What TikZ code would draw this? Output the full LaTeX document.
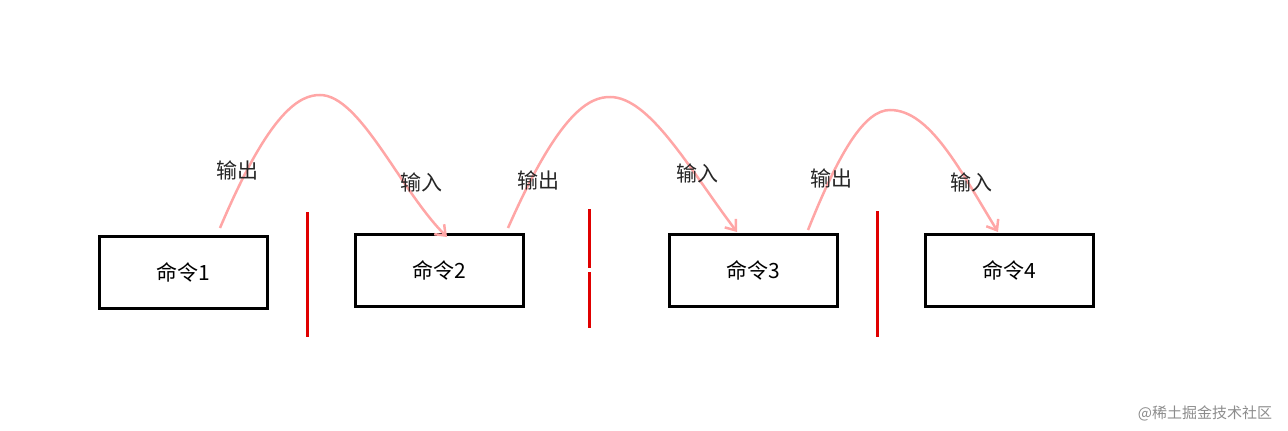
\documentclass[tikz,border=0pt]{standalone}
\usepackage{fontspec}
\setmainfont{Noto Sans CJK SC}
\usetikzlibrary{arrows.meta}
\begin{document}
\begin{tikzpicture}[x=1pt,y=-1pt,
  cmd/.style={draw=black,line width=3pt,minimum width=168pt,minimum height=72pt,font=\fontsize{21}{24}\selectfont},
  lbl/.style={font=\fontsize{21}{24}\selectfont,text=black!85},
  sep/.style={draw=red!88!black,line width=3pt},
  flow/.style={draw=red!35,line width=2.5pt,-{Straight Barb[length=9pt,width=14pt]}}]
\useasboundingbox (0,0) rectangle (1288,431);
\node[cmd] (c1) at (183.5,272) {命令1};
\node[cmd] (c2) at (439.5,270) {命令2};
\node[cmd] (c3) at (753.5,270) {命令3};
\node[cmd] (c4) at (1009.5,270) {命令4};
\draw[sep] (307,212) -- (307,337);
\draw[sep] (589,209) -- (589,268);
\draw[sep] (589,272) -- (589,328);
\draw[sep] (877,211) -- (877,337);
\coordinate (s1) at (220,228); \coordinate (e1) at (447,237);
\coordinate (s2) at (508,228); \coordinate (e2) at (737,232);
\coordinate (s3) at (808,230); \coordinate (e3) at (998,232);
\draw[flow] (s1) .. controls (270,110) and (300,95) .. (320,95) .. controls (360,95) and (400,190) .. (e1);
\draw[flow] (s2) .. controls (560,110) and (590,97) .. (610,97) .. controls (650,97) and (690,170) .. (e2);
\draw[flow] (s3) .. controls (840,150) and (865,110) .. (890,110) .. controls (930,110) and (960,170) .. (e3);
\node[lbl] (o1) at (237,170) {输出};
\node[lbl] (i1) at (421,182) {输入};
\node[lbl] (o2) at (538,180) {输出};
\node[lbl] (i2) at (697,173) {输入};
\node[lbl] (o3) at (831,178) {输出};
\node[lbl] (i3) at (971,182) {输入};
\node[font=\fontsize{15}{17}\selectfont,text=black!45] (wm) at (1205,413) {@稀土掘金技术社区};
\end{tikzpicture}
\end{document}
